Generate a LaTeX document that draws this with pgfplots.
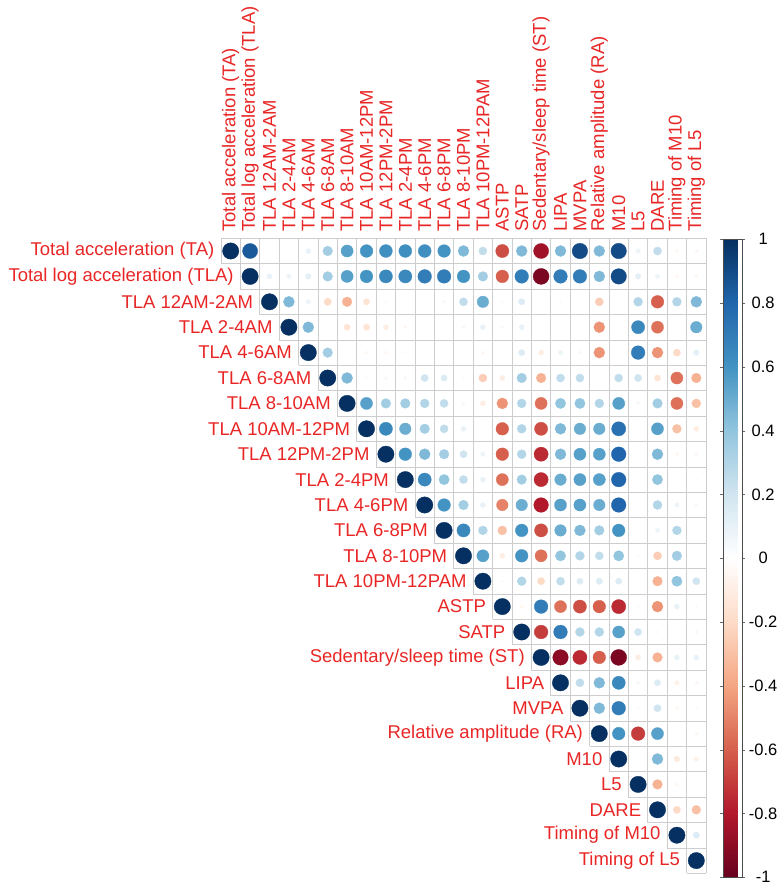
\documentclass[border=0pt]{standalone}
\usepackage{pgfplots}
\pgfplotsset{compat=1.18}
\usepackage{pgfplotstable}
\usepackage{fontspec}
\setmainfont{Liberation Sans}
\definecolor{lab}{RGB}{232,38,38}
\definecolor{gridc}{RGB}{205,205,205}
\tikzset{rowlab/.style={anchor=east, inner sep=0pt, xshift=-6.5pt, text=lab, font=\fontsize{18.5}{20}\selectfont}}
\pgfplotstableread{
x y r
1 1 1
2 1 0.85
3 1 0.02
4 1 0.02
5 1 0.1
6 1 0.35
7 1 0.55
8 1 0.6
9 1 0.62
10 1 0.62
11 1 0.62
12 1 0.6
13 1 0.45
14 1 0.25
15 1 -0.65
16 1 0.45
17 1 -0.85
18 1 0.45
19 1 0.9
20 1 0.45
21 1 0.9
22 1 0.08
23 1 0.25
24 1 -0.05
25 1 -0.05
2 2 1
3 2 0.1
4 2 0.08
5 2 0.12
6 2 0.35
7 2 0.55
8 2 0.6
9 2 0.65
10 2 0.65
11 2 0.7
12 2 0.7
13 2 0.6
14 2 0.35
15 2 -0.6
16 2 0.7
17 2 -0.95
18 2 0.7
19 2 0.7
20 2 0.45
21 2 0.9
22 2 0.12
23 2 0.08
24 2 -0.05
25 2 -0.05
3 3 1
4 3 0.45
5 3 0.08
6 3 -0.2
7 3 -0.35
8 3 -0.15
9 3 -0.03
10 3 0
11 3 0
12 3 0.05
13 3 0.25
14 3 0.5
15 3 0.03
16 3 0.15
17 3 -0.02
18 3 0.03
19 3 0
20 3 -0.25
21 3 0.01
22 3 0.3
23 3 -0.6
24 3 0.3
25 3 0.45
4 4 1
5 4 0.45
6 4 0
7 4 -0.15
8 4 -0.15
9 4 -0.1
10 4 -0.05
11 4 -0.02
12 4 0
13 4 0.05
14 4 0.1
15 4 0.05
16 4 0.1
17 4 0.01
18 4 0.01
19 4 0
20 4 -0.45
21 4 0.02
22 4 0.65
23 4 -0.55
24 4 0
25 4 0.5
5 5 1
6 5 0.35
7 5 0.01
8 5 -0.05
9 5 -0.05
10 5 -0.03
11 5 -0.02
12 5 0.01
13 5 0
14 5 -0.05
15 5 0
16 5 0.15
17 5 -0.1
18 5 0.08
19 5 0.05
20 5 -0.45
21 5 0.01
22 5 0.7
23 5 -0.45
24 5 -0.2
25 5 0.12
6 6 1
7 6 0.45
8 6 0.03
9 6 0.05
10 6 0.05
11 6 0.2
12 6 0.15
13 6 0.03
14 6 -0.25
15 6 -0.1
16 6 0.35
17 6 -0.35
18 6 0.25
19 6 0.25
20 6 0
21 6 0.25
22 6 0.2
23 6 -0.15
24 6 -0.55
25 6 -0.35
7 7 1
8 7 0.55
9 7 0.35
10 7 0.35
11 7 0.3
12 7 0.25
13 7 0.05
14 7 -0.1
15 7 -0.45
16 7 0.3
17 7 -0.55
18 7 0.4
19 7 0.4
20 7 0.3
21 7 0.55
22 7 0.05
23 7 0.35
24 7 -0.55
25 7 -0.3
8 8 1
9 8 0.65
10 8 0.5
11 8 0.35
12 8 0.25
13 8 0.1
14 8 0
15 8 -0.6
16 8 0.3
17 8 -0.65
18 8 0.45
19 8 0.5
20 8 0.5
21 8 0.75
22 8 0
23 8 0.55
24 8 -0.3
25 8 -0.1
9 9 1
10 9 0.6
11 9 0.45
12 9 0.35
13 9 0.2
14 9 0.08
15 9 -0.6
16 9 0.3
17 9 -0.75
18 9 0.45
19 9 0.55
20 9 0.55
21 9 0.8
22 9 0
23 9 0.45
24 9 -0.05
25 9 -0.05
10 10 1
11 10 0.65
12 10 0.4
13 10 0.25
14 10 0.1
15 10 -0.55
16 10 0.35
17 10 -0.75
18 10 0.5
19 10 0.55
20 10 0.55
21 10 0.8
22 10 0
23 10 0.4
24 10 0
25 10 -0.03
11 11 1
12 11 0.6
13 11 0.35
14 11 0.1
15 11 -0.5
16 11 0.5
17 11 -0.8
18 11 0.55
19 11 0.55
20 11 0.5
21 11 0.8
22 11 0
23 11 0.3
24 11 0.08
25 11 -0.05
12 12 1
13 12 0.65
14 12 0.3
15 12 -0.3
16 12 0.6
17 12 -0.65
18 12 0.5
19 12 0.45
20 12 0.35
21 12 0.6
22 12 0
23 12 0.08
24 12 0.3
25 12 -0.02
13 13 1
14 13 0.55
15 13 -0.1
16 13 0.6
17 13 -0.55
18 13 0.4
19 13 0.3
20 13 0.25
21 13 0.4
22 13 0.03
23 13 -0.25
24 13 0.35
25 13 0
14 14 1
15 14 -0.03
16 14 0.3
17 14 -0.2
18 14 0.25
19 14 0.15
20 14 0.15
21 14 0.15
22 14 0
23 14 -0.35
24 14 0.4
25 14 0.2
15 15 1
16 15 -0.05
17 15 0.7
18 15 -0.55
19 15 -0.65
20 15 -0.6
21 15 -0.75
22 15 0.03
23 15 -0.45
24 15 0.1
25 15 0.03
16 16 1
17 16 -0.7
18 16 0.7
19 16 0.3
20 16 0.3
21 16 0.55
22 16 0.2
23 16 -0.03
24 16 -0.02
25 16 -0.05
17 17 1
18 17 -0.9
19 17 -0.75
20 17 -0.6
21 17 -0.95
22 17 -0.1
23 17 -0.35
24 17 0.1
25 17 0.1
18 18 1
19 18 0.25
20 18 0.45
21 18 0.65
22 18 0.05
23 18 0.15
24 18 -0.08
25 18 -0.05
19 19 1
20 19 0.45
21 19 0.7
22 19 0.03
23 19 0.2
24 19 -0.05
25 19 -0.03
20 20 1
21 20 0.6
22 20 -0.7
23 20 0.55
24 20 0
25 20 -0.05
21 21 1
22 21 0
23 21 0.45
24 21 -0.12
25 21 -0.08
22 22 1
23 22 -0.35
24 22 -0.05
25 22 -0.01
23 23 1
24 23 -0.2
25 23 -0.3
24 24 1
25 24 0.15
25 25 1
}\corrdata
\begin{document}
\begin{tikzpicture}
\path[use as bounding box] (0,0) rectangle (780pt,-888pt);
\begin{axis}[
  at={(221pt,-238.3pt)}, anchor=north west,
  x=19.4pt, y=25.4pt,
  xmin=0.5, xmax=25.5, ymin=-25.5, ymax=-0.5,
  axis line style={draw=none},
  clip=false,
  ytick=\empty,
  xtick={1,...,25},
  xticklabels={Total acceleration (TA),Total log acceleration (TLA),TLA 12AM-2AM,TLA 2-4AM,TLA 4-6AM,TLA 6-8AM,TLA 8-10AM,TLA 10AM-12PM,TLA 12PM-2PM,TLA 2-4PM,TLA 4-6PM,TLA 6-8PM,TLA 8-10PM,TLA 10PM-12PAM,ASTP,SATP,Sedentary/sleep time (ST),LIPA,MVPA,Relative amplitude (RA),M10,L5,DARE,Timing of M10,Timing of L5},
  xticklabel pos=upper,
  major tick length=0pt,
  xtick style={draw=none},
  xticklabel style={rotate=90, anchor=west, inner sep=0pt, xshift=6.5pt, font=\fontsize{18.5}{20}\selectfont, text=lab},
  colormap={corr}{rgb255=(103,0,31) rgb255=(178,24,43) rgb255=(214,96,77) rgb255=(244,165,130) rgb255=(253,219,199) rgb255=(255,255,255) rgb255=(209,229,240) rgb255=(146,197,222) rgb255=(67,147,195) rgb255=(33,102,172) rgb255=(5,48,97)},
  point meta min=-1, point meta max=1,
  colorbar,
  colorbar style={
    at={(parent axis.north east)}, anchor=north west,
    xshift=8.6pt, yshift=-1pt,
    width=19pt, height=638pt,
    axis line style={draw=black!70},
    ytick={-1,-0.8,-0.6,-0.4,-0.2,0,0.2,0.4,0.6,0.8,1},
    yticklabel pos=right,
    tick align=outside,
    major tick length=3pt,
    ytick style={draw=black!60},
    yticklabel style={font=\fontsize{16.5}{18}\selectfont, anchor=center, xshift=18pt, inner sep=0pt},
    /pgf/number format/assume math mode=true,
  },
]
% grid lines (staircase upper triangle)
\draw[gridc, line width=0.8pt] (axis cs:0.5,-0.5) -- (axis cs:25.5,-0.5);
\pgfplotsinvokeforeach{1,...,25}{
  \draw[gridc, line width=0.8pt] (axis cs:{#1-0.5},{-#1-0.5}) -- (axis cs:25.5,{-#1-0.5});
}
\draw[gridc, line width=0.8pt] (axis cs:0.5,-0.5) -- (axis cs:0.5,-1.5);
\pgfplotsinvokeforeach{1,...,24}{
  \draw[gridc, line width=0.8pt] (axis cs:{#1+0.5},-0.5) -- (axis cs:{#1+0.5},{-#1-1.5});
}
\draw[gridc, line width=0.8pt] (axis cs:25.5,-0.5) -- (axis cs:25.5,-25.5);
\addplot[scatter, only marks, mark=*,
  point meta=explicit,
  scatter/use mapped color={draw=mapped color, fill=mapped color},
  visualization depends on={8.2*sqrt(abs(\thisrow{r})) \as \msize},
  scatter/@pre marker code/.append style={/tikz/mark size=\msize},
  mark options={line width=0.3pt}]
  table[x=x, y expr=-\thisrow{y}, meta=r] {\corrdata};
% row labels
\node[rowlab] at (axis cs:0.5,-1) {Total acceleration (TA)};
\node[rowlab] at (axis cs:1.5,-2) {Total log acceleration (TLA)};
\node[rowlab] at (axis cs:2.5,-3) {TLA 12AM-2AM};
\node[rowlab] at (axis cs:3.5,-4) {TLA 2-4AM};
\node[rowlab] at (axis cs:4.5,-5) {TLA 4-6AM};
\node[rowlab] at (axis cs:5.5,-6) {TLA 6-8AM};
\node[rowlab] at (axis cs:6.5,-7) {TLA 8-10AM};
\node[rowlab] at (axis cs:7.5,-8) {TLA 10AM-12PM};
\node[rowlab] at (axis cs:8.5,-9) {TLA 12PM-2PM};
\node[rowlab] at (axis cs:9.5,-10) {TLA 2-4PM};
\node[rowlab] at (axis cs:10.5,-11) {TLA 4-6PM};
\node[rowlab] at (axis cs:11.5,-12) {TLA 6-8PM};
\node[rowlab] at (axis cs:12.5,-13) {TLA 8-10PM};
\node[rowlab] at (axis cs:13.5,-14) {TLA 10PM-12PAM};
\node[rowlab] at (axis cs:14.5,-15) {ASTP};
\node[rowlab] at (axis cs:15.5,-16) {SATP};
\node[rowlab] at (axis cs:16.5,-17) {Sedentary/sleep time (ST)};
\node[rowlab] at (axis cs:17.5,-18) {LIPA};
\node[rowlab] at (axis cs:18.5,-19) {MVPA};
\node[rowlab] at (axis cs:19.5,-20) {Relative amplitude (RA)};
\node[rowlab] at (axis cs:20.5,-21) {M10};
\node[rowlab] at (axis cs:21.5,-22) {L5};
\node[rowlab] at (axis cs:22.5,-23) {DARE};
\node[rowlab] at (axis cs:23.5,-24) {Timing of M10};
\node[rowlab] at (axis cs:24.5,-25) {Timing of L5};
\end{axis}
\end{tikzpicture}
\end{document}
